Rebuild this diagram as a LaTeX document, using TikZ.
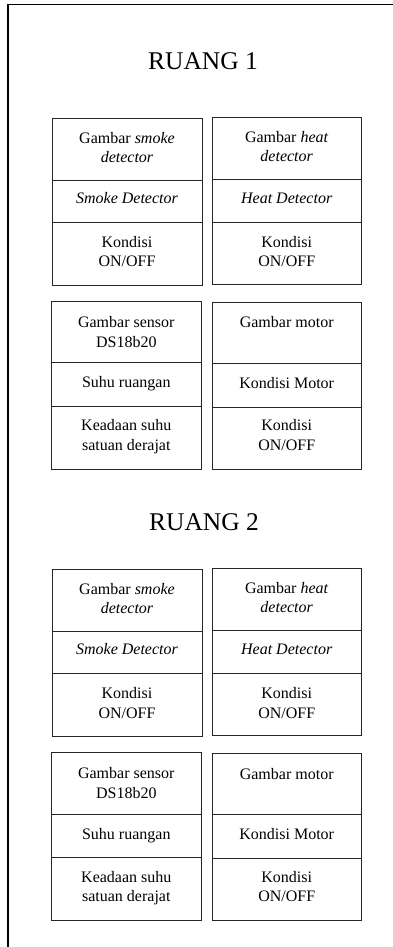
\documentclass[tikz,border=0pt]{standalone}
\usepackage{fontspec}
\setmainfont{Liberation Serif}
\tikzset{
  frameline/.style={line width=1.1pt, draw=black},
  cellline/.style={line width=0.9pt, draw=black!85},
  txt/.style={anchor=base, inner sep=0pt, font=\fontsize{16}{19.5}\selectfont},
  ttl/.style={anchor=base, inner sep=0pt, font=\fontsize{25.5}{30}\selectfont}
}
\newcommand\roomrows[2]{%
  \begin{scope}[yshift=-#2pt]
    % row 1 left box
    \draw[cellline] (52.5,118) rectangle (202,285);
    \draw[cellline] (52.5,180) -- (202,180);
    \draw[cellline] (52.5,222.3) -- (202,222.3);
    \node[txt] (#1sa) at (127,143.5) {Gambar \textit{smoke}};
    \node[txt] (#1sb) at (127,162.5) {\textit{detector}};
    \node[txt] (#1sc) at (127,203.5) {\textit{Smoke Detector}};
    \node[txt] (#1sd) at (127,247.3) {Kondisi};
    \node[txt] (#1se) at (127,266.8) {ON/OFF};
    % row 1 right box
    \draw[cellline] (212.5,117) rectangle (361,284.5);
    \draw[cellline] (212.5,179) -- (361,179);
    \draw[cellline] (212.5,222.3) -- (361,222.3);
    \node[txt] (#1ha) at (286.7,142.5) {Gambar \textit{heat}};
    \node[txt] (#1hb) at (286.7,161.5) {\textit{detector}};
    \node[txt] (#1hc) at (286.7,203.5) {\textit{Heat Detector}};
    \node[txt] (#1hd) at (286.7,247.3) {Kondisi};
    \node[txt] (#1he) at (286.7,266.8) {ON/OFF};
    % row 2 left box
    \draw[cellline] (51.7,301.5) rectangle (201,469.5);
    \draw[cellline] (51.7,362.7) -- (201,362.7);
    \draw[cellline] (51.7,406) -- (201,406);
    \node[txt] (#1ta) at (126.3,327) {Gambar sensor};
    \node[txt] (#1tb) at (126.3,347) {DS18b20};
    \node[txt] (#1tc) at (126.3,387.7) {Suhu ruangan};
    \node[txt] (#1td) at (126.3,430.7) {Keadaan suhu};
    \node[txt] (#1te) at (126.3,450.3) {satuan derajat};
    % row 2 right box
    \draw[cellline] (212.3,302.5) rectangle (361,469.5);
    \draw[cellline] (212.3,363.5) -- (361,363.5);
    \draw[cellline] (212.3,407) -- (361,407);
    \node[txt] (#1ma) at (286.7,327.7) {Gambar motor};
    \node[txt] (#1mb) at (286.7,388.3) {Kondisi Motor};
    \node[txt] (#1mc) at (286.7,430.7) {Kondisi};
    \node[txt] (#1md) at (286.7,450.3) {ON/OFF};
  \end{scope}}
\begin{document}
\begin{tikzpicture}[x=1pt,y=-1pt]
  \useasboundingbox (0,0) rectangle (393,947);
  \draw[frameline] (8,947) -- (8,4.5) -- (393,4.5);
  \node[ttl] (title1) at (203,70) {RUANG 1};
  \node[ttl] (title2) at (204,530.7) {RUANG 2};
  \roomrows{a}{0}
  \roomrows{b}{451.3}
\end{tikzpicture}
\end{document}
